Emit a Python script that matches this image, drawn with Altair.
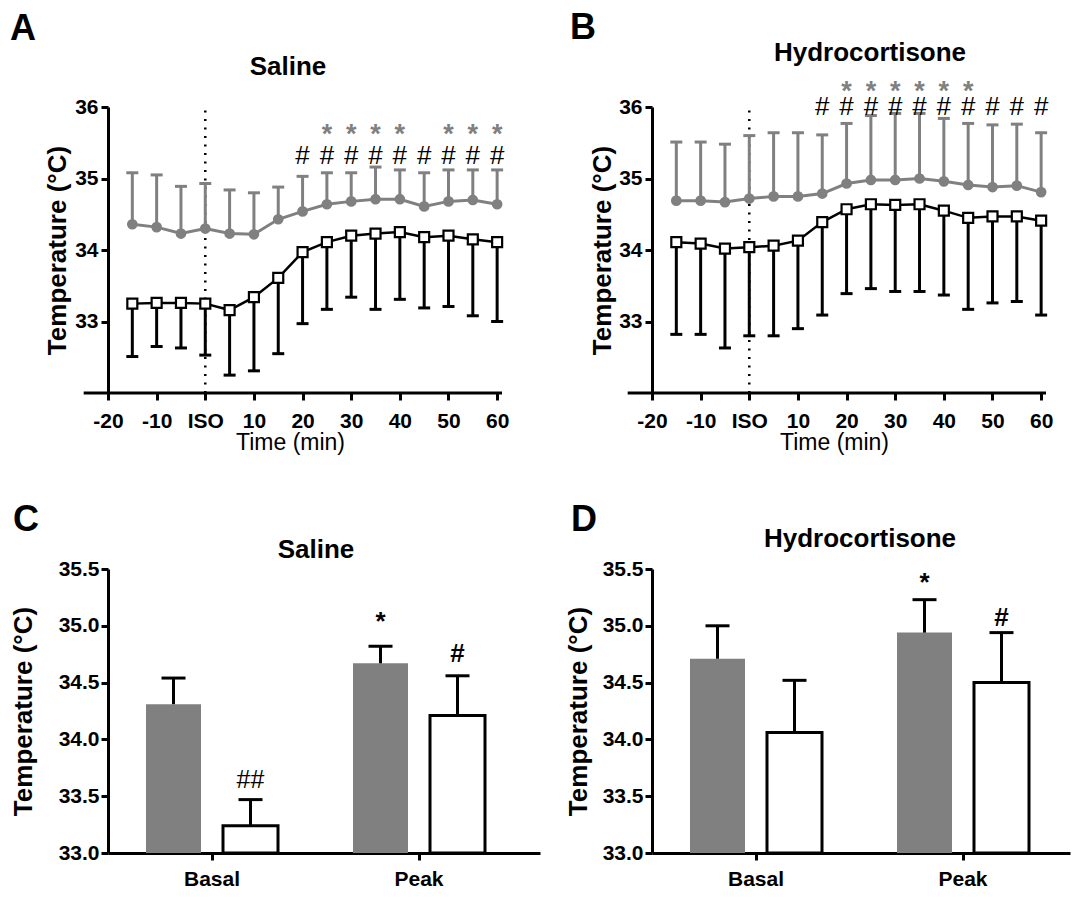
import altair as alt
import pandas as pd

FONT = "Liberation Sans"
GRAY = "#808080"
BLACK = "#000000"

# ---------------- time-course data (panels A, B) ----------------
times = [-15, -10, -5, 0, 5, 10, 15, 20, 25, 30, 35, 40, 45, 50, 55, 60]

a_gray_mean = [34.36, 34.32, 34.23, 34.30, 34.23, 34.22, 34.43, 34.54, 34.64, 34.68, 34.71, 34.71, 34.61, 34.68, 34.70, 34.64]
a_gray_upper = [35.08, 35.05, 34.89, 34.93, 34.84, 34.80, 34.88, 35.03, 35.08, 35.08, 35.16, 35.12, 35.08, 35.12, 35.12, 35.12]
a_open_mean = [33.25, 33.26, 33.26, 33.25, 33.16, 33.34, 33.61, 33.97, 34.11, 34.20, 34.23, 34.25, 34.18, 34.20, 34.15, 34.11]
a_open_lower = [32.51, 32.65, 32.63, 32.53, 32.25, 32.31, 32.55, 32.97, 33.17, 33.34, 33.17, 33.31, 33.19, 33.21, 33.08, 33.00]
a_star_times = [25, 30, 35, 40, 50, 55, 60]
a_hash_times = [20, 25, 30, 35, 40, 45, 50, 55, 60]

b_gray_mean = [34.69, 34.69, 34.67, 34.72, 34.75, 34.75, 34.79, 34.93, 34.98, 34.98, 35.00, 34.96, 34.91, 34.88, 34.90, 34.81]
b_gray_upper = [35.51, 35.51, 35.48, 35.60, 35.64, 35.64, 35.61, 35.77, 35.88, 35.91, 35.91, 35.84, 35.77, 35.75, 35.76, 35.64]
b_open_mean = [34.11, 34.09, 34.02, 34.04, 34.06, 34.13, 34.39, 34.57, 34.64, 34.63, 34.64, 34.55, 34.45, 34.47, 34.47, 34.41]
b_open_lower = [32.82, 32.82, 32.63, 32.80, 32.80, 32.90, 33.09, 33.39, 33.46, 33.42, 33.42, 33.37, 33.17, 33.26, 33.28, 33.09]
b_star_times = [20, 25, 30, 35, 40, 45]
b_hash_times = [15, 20, 25, 30, 35, 40, 45, 50, 55, 60]

x_tick_values = [-20, -10, 0, 10, 20, 30, 40, 50, 60]
x_tick_labels = ["-20", "-10", "ISO", "10", "20", "30", "40", "50", "60"]
line_y_ticks = [33, 34, 35, 36]

# ---------------- summary data (panels C, D) ----------------
phases = ["Basal", "Peak"]
groups = ["gray", "open"]
bar_y_ticks = [33.0, 33.5, 34.0, 34.5, 35.0, 35.5]

c_gray_mean = [34.31, 34.67]
c_gray_top = [34.54, 34.82]
c_open_mean = [33.24, 34.21]
c_open_top = [33.47, 34.56]
c_note_phase = ["Basal", "Peak", "Peak"]
c_note_group = ["open", "gray", "open"]
c_note_text = ["##", "*", "#"]
c_note_y = [33.57, 34.96, 34.68]
c_note_bold = [False, True, True]

d_gray_mean = [34.71, 34.94]
d_gray_top = [35.00, 35.23]
d_open_mean = [34.06, 34.50]
d_open_top = [34.52, 34.94]
d_note_phase = ["Peak", "Peak"]
d_note_group = ["gray", "open"]
d_note_text = ["*", "#"]
d_note_y = [35.31, 35.00]
d_note_bold = [True, True]


def label_expr(values, labels):
    expr = "''"
    for v, l in reversed(list(zip(values, labels))):
        expr = f"datum.value == {v} ? '{l}' : {expr}"
    return expr


def text_layer(txt, x, y, size, weight="bold", align="left"):
    return alt.Chart(pd.DataFrame({"label": [txt]})).mark_text(
        font=FONT, fontSize=size, fontWeight=weight, color=BLACK,
        align=align, baseline="alphabetic"
    ).encode(text="label:N", x=alt.value(x), y=alt.value(y))


def line_panel(gm, gu, om, ol, star_t, star_y, hash_t, hash_y,
               title, title_x, title_y, letter, letter_x, letter_y, ytitle_x):
    df = pd.DataFrame({"t": times, "gm": gm, "gu": gu, "om": om, "ol": ol})
    one = pd.DataFrame({"k": [0]})
    xs = alt.Scale(domain=[-20, 61], nice=False, zero=False)
    ys = alt.Scale(domain=[32, 36], nice=False, zero=False)
    xaxis = alt.Axis(values=x_tick_values, labelExpr=label_expr(x_tick_values, x_tick_labels),
                     title="Time (min)", domain=False, tickSize=7, tickWidth=3, tickColor=BLACK,
                     labelFont=FONT, labelFontSize=21, labelFontWeight="bold", labelColor=BLACK,
                     labelPadding=10, labelFlush=False, labelOverlap=False,
                     titleFont=FONT, titleFontSize=23, titleFontWeight="normal", titleColor=BLACK,
                     titleX=182, titleY=56, titleBaseline="alphabetic", titleAlign="center", grid=False)
    yaxis = alt.Axis(values=line_y_ticks, format="d", title="Temperature (°C)",
                     domainWidth=3, domainColor=BLACK, tickSize=7, tickWidth=3, tickColor=BLACK,
                     labelFont=FONT, labelFontSize=21, labelFontWeight="bold", labelColor=BLACK,
                     labelPadding=3, titleFont=FONT, titleFontSize=26, titleFontWeight="bold",
                     titleColor=BLACK, titleX=ytitle_x, titleY=143, titleBaseline="middle",
                     titleAlign="center", grid=False)
    X = alt.X("t:Q", scale=xs, axis=xaxis)

    def Y(f):
        return alt.Y(f"{f}:Q", scale=ys, axis=yaxis)

    base = alt.Chart(df)
    dotted = alt.Chart(one).mark_rule(color=BLACK, strokeWidth=2.5, strokeDash=[2, 6.5]).encode(
        x=alt.X(datum=0, scale=xs, axis=xaxis), y=alt.Y(datum=32, scale=ys, axis=yaxis), y2=alt.datum(36))
    baseline = alt.Chart(one).mark_rule(color=BLACK, strokeWidth=3).encode(
        x=alt.datum(-25), x2=alt.datum(61), y=alt.datum(32))
    g_err = base.mark_rule(color=GRAY, strokeWidth=3).encode(x=X, y=Y("gm"), y2="gu:Q")
    g_cap = base.mark_tick(color=GRAY, orient="horizontal", size=12, thickness=3, opacity=1).encode(x=X, y=Y("gu"))
    g_line = base.mark_line(color=GRAY, strokeWidth=3).encode(x=X, y=Y("gm"))
    g_pts = base.mark_circle(color=GRAY, size=115, opacity=1).encode(x=X, y=Y("gm"))
    o_err = base.mark_rule(color=BLACK, strokeWidth=3).encode(x=X, y=Y("om"), y2="ol:Q")
    o_cap = base.mark_tick(color=BLACK, orient="horizontal", size=12, thickness=3, opacity=1).encode(x=X, y=Y("ol"))
    o_line = base.mark_line(color=BLACK, strokeWidth=2.5).encode(x=X, y=Y("om"))
    o_pts = base.mark_square(size=100, fill="white", stroke=BLACK, strokeWidth=2.2, opacity=1).encode(x=X, y=Y("om"))
    stars = alt.Chart(pd.DataFrame({"t": star_t})).mark_text(
        text="*", font=FONT, fontSize=27, fontWeight="bold", color=GRAY, baseline="alphabetic").encode(
        x=X, y=alt.datum(star_y))
    hashes = alt.Chart(pd.DataFrame({"t": hash_t})).mark_text(
        text="#", font=FONT, fontSize=26, color=BLACK, baseline="alphabetic").encode(
        x=X, y=alt.datum(hash_y))
    ttl = text_layer(title, title_x, title_y, 26, align="center")
    let = text_layer(letter, letter_x, letter_y, 36)
    return alt.layer(dotted, baseline, g_err, g_cap, g_line, g_pts, o_err, o_cap, o_line, o_pts,
                     stars, hashes, ttl, let).properties(width=394, height=286)


def bar_panel(gm, gt, om, ot, n_phase, n_group, n_text, n_y, n_bold,
              width, align, title, title_y, letter, letter_x, letter_y, ytitle_x):
    df = pd.DataFrame({"phase": phases * 2, "group": ["gray"] * 2 + ["open"] * 2,
                       "mean": gm + om, "top": gt + ot})
    notes = pd.DataFrame({"phase": n_phase, "group": n_group, "label": n_text, "y": n_y, "bold": n_bold})
    pad_out = (width - 414) / 414
    xs = alt.Scale(domain=phases, paddingInner=0, paddingOuter=pad_out, align=align)
    xo = alt.Scale(domain=groups, paddingInner=0.2857, paddingOuter=0.487)
    ys = alt.Scale(domain=[33, 35.5], nice=False, zero=False)
    xaxis = alt.Axis(title=None, labelAngle=0, domainWidth=3, domainColor=BLACK, tickSize=7,
                     tickWidth=3, tickColor=BLACK, labelFont=FONT, labelFontSize=21,
                     labelFontWeight="bold", labelColor=BLACK, labelPadding=8, grid=False)
    yaxis = alt.Axis(values=bar_y_ticks, format=".1f", title="Temperature (°C)",
                     domainWidth=3, domainColor=BLACK, tickSize=7, tickWidth=3, tickColor=BLACK,
                     labelFont=FONT, labelFontSize=21, labelFontWeight="bold", labelColor=BLACK,
                     labelPadding=2, titleFont=FONT, titleFontSize=26, titleFontWeight="bold",
                     titleColor=BLACK, titleX=ytitle_x, titleY=142, titleBaseline="middle",
                     titleAlign="center", grid=False)
    X = alt.X("phase:N", scale=xs, axis=xaxis)
    XO = alt.XOffset("group:N", scale=xo)

    def Y(f):
        return alt.Y(f"{f}:Q", scale=ys, axis=yaxis)

    base = alt.Chart(df)
    bars = base.mark_bar(stroke=BLACK).encode(
        x=X, xOffset=XO, y=Y("mean"), y2=alt.datum(33),
        fill=alt.Fill("group:N", scale=alt.Scale(domain=groups, range=[GRAY, "white"]), legend=None),
        strokeWidth=alt.StrokeWidth("group:N", scale=alt.Scale(domain=groups, range=[0, 3]), legend=None))
    err = base.mark_rule(color=BLACK, strokeWidth=3).encode(x=X, xOffset=XO, y=Y("mean"), y2="top:Q")
    cap = base.mark_tick(color=BLACK, orient="horizontal", size=24, thickness=3, opacity=1).encode(
        x=X, xOffset=XO, y=Y("top"))
    nb = alt.Chart(notes).transform_filter("datum.bold").mark_text(
        font=FONT, fontSize=26, fontWeight="bold", color=BLACK, baseline="alphabetic").encode(
        x=X, xOffset=XO, y=Y("y"), text="label:N")
    nn = alt.Chart(notes).transform_filter("!datum.bold").mark_text(
        font=FONT, fontSize=25, fontWeight="normal", color=BLACK, baseline="alphabetic").encode(
        x=X, xOffset=XO, y=Y("y"), text="label:N")
    ttl = text_layer(title, 208, title_y, 26, align="center")
    let = text_layer(letter, letter_x, letter_y, 36)
    return alt.layer(bars, err, cap, nb, nn, ttl, let).properties(width=width, height=284)


pA = line_panel(a_gray_mean, a_gray_upper, a_open_mean, a_open_lower, a_star_times, 35.50,
                a_hash_times, 35.20, "Saline", 180, -32, "A", -98, -67, -51)
pB = line_panel(b_gray_mean, b_gray_upper, b_open_mean, b_open_lower, b_star_times, 36.10,
                b_hash_times, 35.89, "Hydrocortisone", 218, -46, "B", -82, -68, -50)
pC = bar_panel(c_gray_mean, c_gray_top, c_open_mean, c_open_top, c_note_phase, c_note_group,
               c_note_text, c_note_y, c_note_bold, 432, 0.028, "Saline", -11, "C", -95, -38, -85)
pD = bar_panel(d_gray_mean, d_gray_top, d_open_mean, d_open_top, d_note_phase, d_note_group,
               d_note_text, d_note_y, d_note_bold, 418, 0.125, "Hydrocortisone", -22, "D", -81, -38, -74)

chart = alt.ConcatChart(
    concat=[pA, pB, pC, pD], columns=2, spacing={"row": 176, "column": 112},
    bounds="flush", align="each",
    padding={"left": 2, "top": 2, "right": 2, "bottom": 2},
    background="white",
).configure_view(strokeWidth=0)

chart.save("out.html", embed_options={"renderer": "svg", "actions": False})
